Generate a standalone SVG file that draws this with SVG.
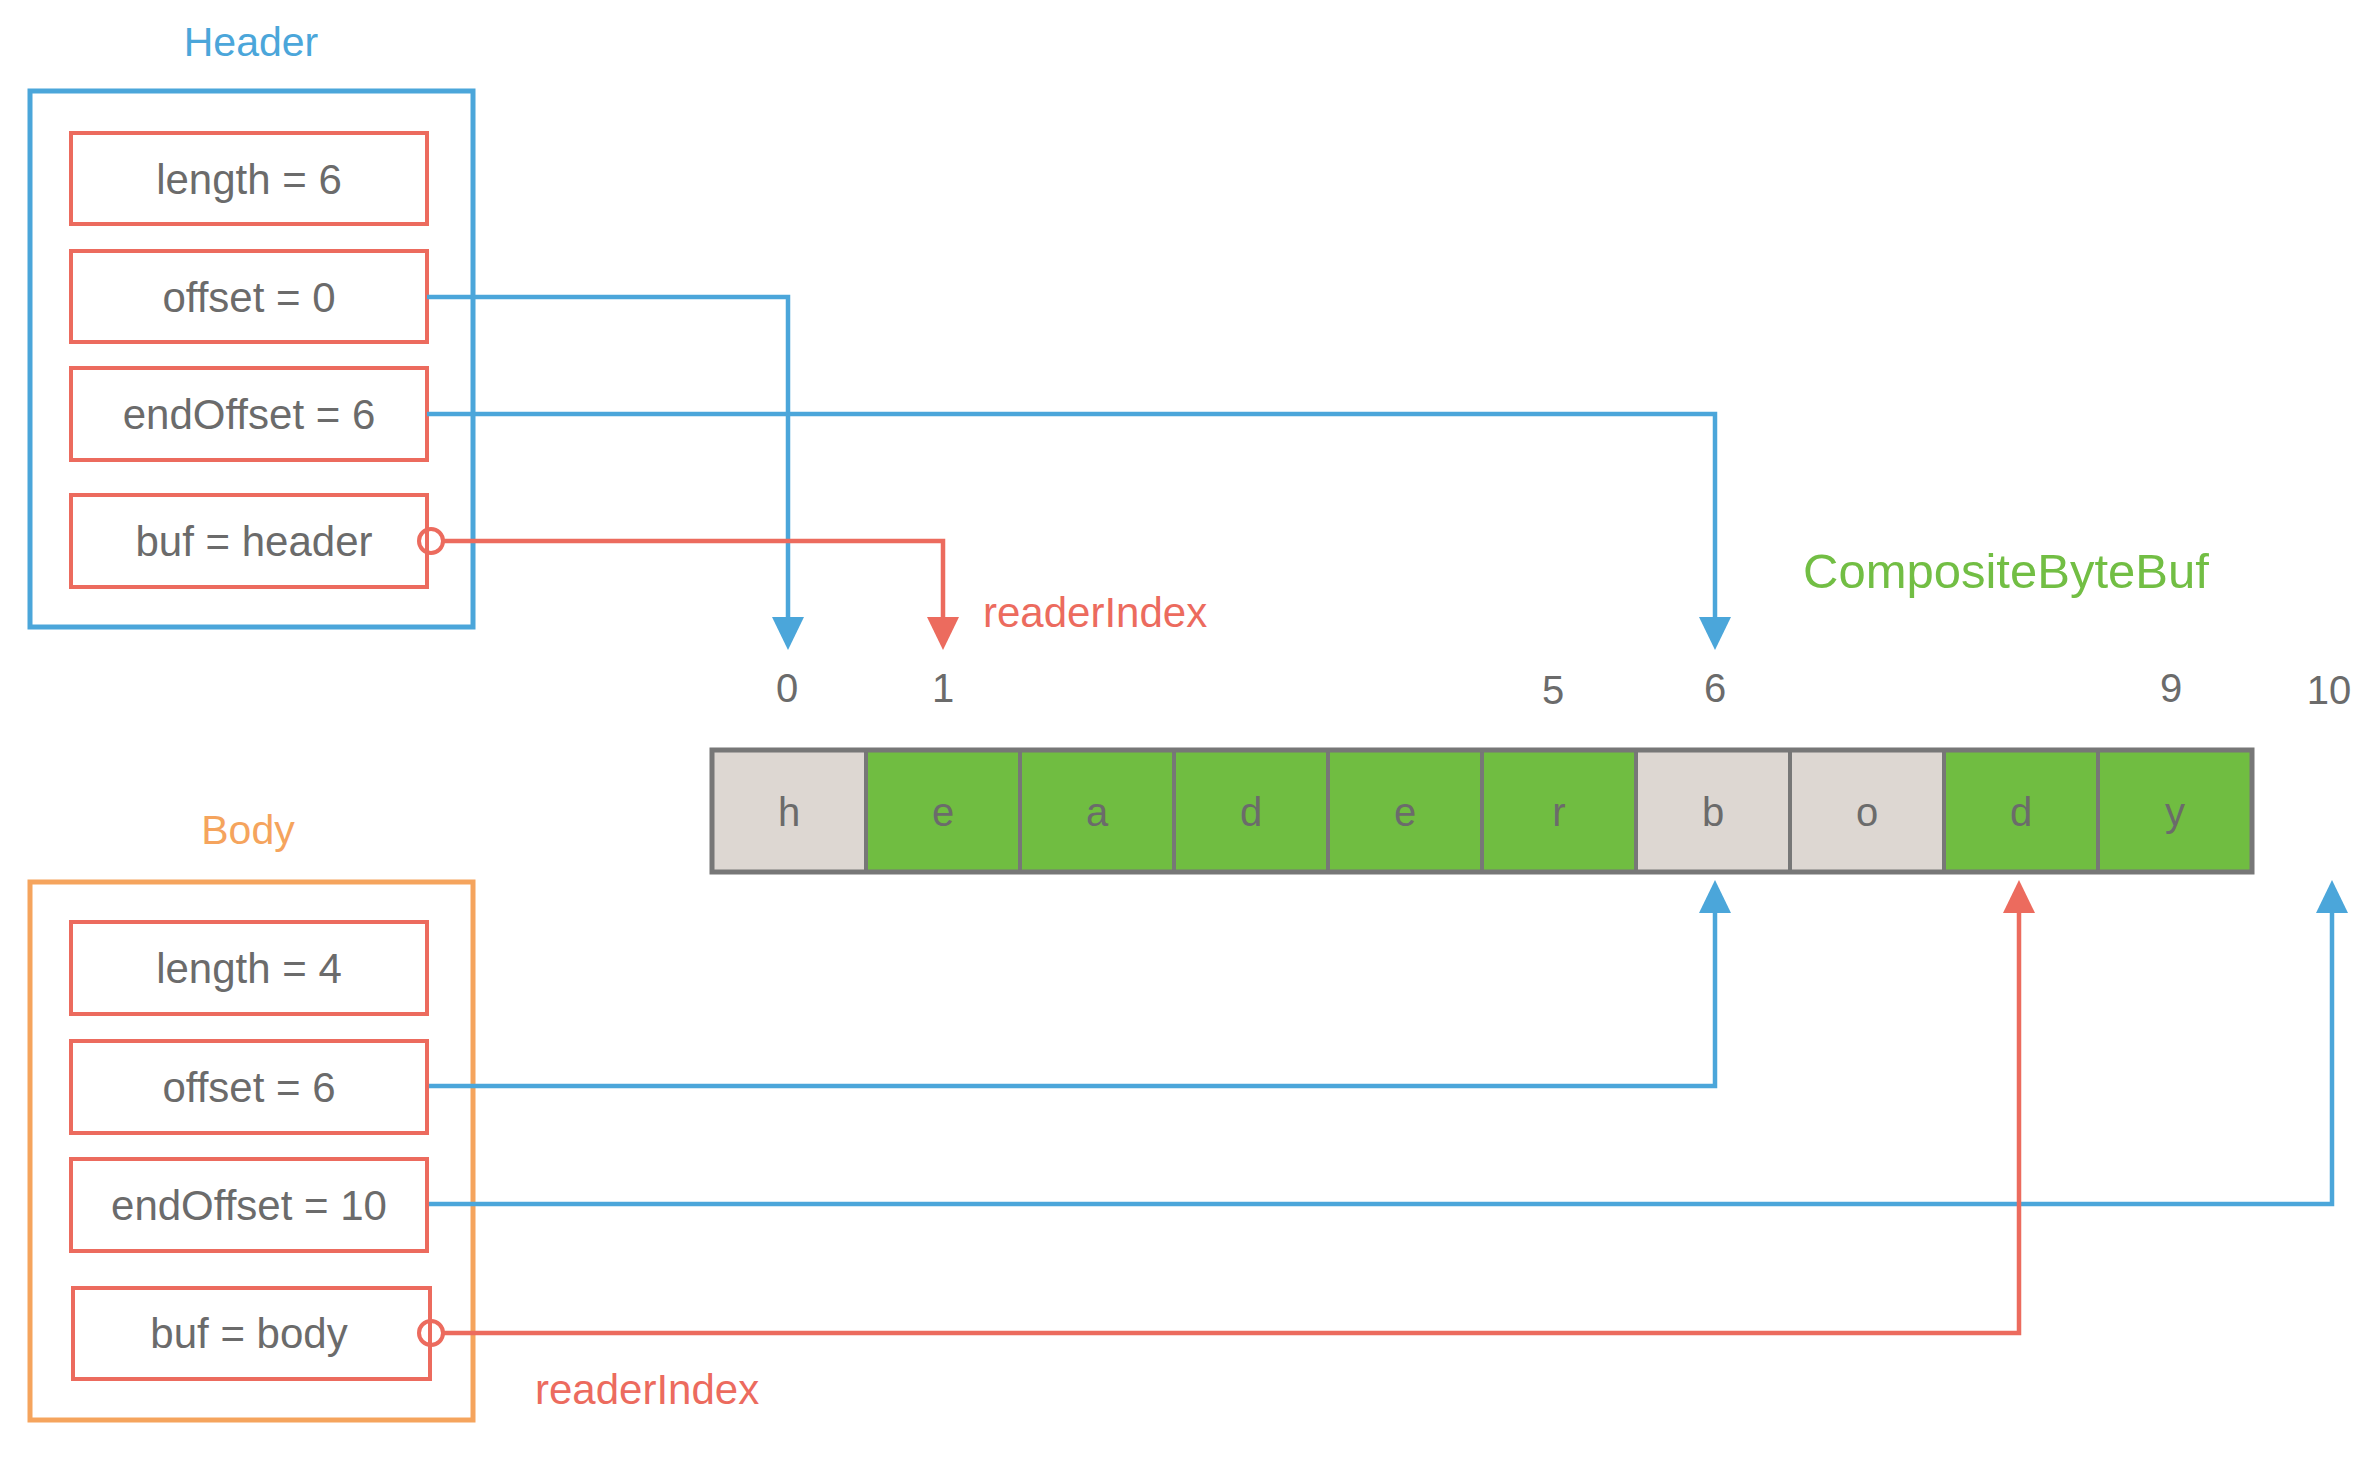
<svg xmlns="http://www.w3.org/2000/svg" width="2374" height="1464" viewBox="0 0 2374 1464">
<style>
text{font-family:"Liberation Sans",Arial,sans-serif}
.fld{fill:#fff;stroke:#EC6B5E;stroke-width:4}
.ft{font-size:42px;fill:#6B6B6B;text-anchor:middle}
.cellg{fill:#DDD7D2;stroke:#777;stroke-width:4}
.cellv{fill:#70BD41;stroke:#777;stroke-width:4}
.ct{font-size:40px;fill:#6B6B6B;text-anchor:middle}
.idx{font-size:40px;fill:#6B6B6B;text-anchor:middle}
.blue{fill:none;stroke:#4BA6DA;stroke-width:4.5}
.red{fill:none;stroke:#EC6B5E;stroke-width:4.5}
.ri{font-size:42px;fill:#EC6B5E}
</style>
<rect width="2374" height="1464" fill="#fff"/>

<g id="header">
<text x="251" y="56" style="font-size:41px;fill:#4BA6DA;text-anchor:middle">Header</text>
<rect x="30" y="91" width="443" height="536" fill="none" stroke="#4BA6DA" stroke-width="5"/>
</g>
<g id="header-length"><rect class="fld" x="71" y="133" width="356" height="91"/><text class="ft" x="249" y="194">length = 6</text></g>
<g id="header-offset"><rect class="fld" x="71" y="251" width="356" height="91"/><text class="ft" x="249" y="312">offset = 0</text></g>
<g id="header-endOffset"><rect class="fld" x="71" y="368" width="356" height="92"/><text class="ft" x="249" y="429">endOffset = 6</text></g>
<g id="header-buf"><rect class="fld" x="71" y="495" width="356" height="92"/><text class="ft" x="254" y="556">buf = header</text></g>

<g id="body">
<text x="248" y="844" style="font-size:41px;fill:#F5A45D;text-anchor:middle">Body</text>
<rect x="30" y="882" width="443" height="538" fill="none" stroke="#F5A45D" stroke-width="5"/>
</g>
<g id="body-length"><rect class="fld" x="71" y="922" width="356" height="92"/><text class="ft" x="249" y="983">length = 4</text></g>
<g id="body-offset"><rect class="fld" x="71" y="1041" width="356" height="92"/><text class="ft" x="249" y="1102">offset = 6</text></g>
<g id="body-endOffset"><rect class="fld" x="71" y="1159" width="356" height="92"/><text class="ft" x="249" y="1220">endOffset = 10</text></g>
<g id="body-buf"><rect class="fld" x="73" y="1288" width="357" height="91"/><text class="ft" x="249" y="1348">buf = body</text></g>

<g id="compositebytebuf">
<text x="1803" y="588" style="font-size:49px;fill:#72BE44">CompositeByteBuf</text>
<rect class="cellg" x="712" y="750" width="154" height="122"/>
<rect class="cellv" x="866" y="750" width="154" height="122"/>
<rect class="cellv" x="1020" y="750" width="154" height="122"/>
<rect class="cellv" x="1174" y="750" width="154" height="122"/>
<rect class="cellv" x="1328" y="750" width="154" height="122"/>
<rect class="cellv" x="1482" y="750" width="154" height="122"/>
<rect class="cellg" x="1636" y="750" width="154" height="122"/>
<rect class="cellg" x="1790" y="750" width="154" height="122"/>
<rect class="cellv" x="1944" y="750" width="154" height="122"/>
<rect class="cellv" x="2098" y="750" width="154" height="122"/>
<rect x="712" y="750" width="1540" height="122" fill="none" stroke="#777" stroke-width="5"/>
<text class="ct" x="789" y="826">h</text>
<text class="ct" x="943" y="826">e</text>
<text class="ct" x="1097" y="826">a</text>
<text class="ct" x="1251" y="826">d</text>
<text class="ct" x="1405" y="826">e</text>
<text class="ct" x="1559" y="826">r</text>
<text class="ct" x="1713" y="826">b</text>
<text class="ct" x="1867" y="826">o</text>
<text class="ct" x="2021" y="826">d</text>
<text class="ct" x="2175" y="826">y</text>
<text class="idx" x="787" y="702">0</text>
<text class="idx" x="943" y="702">1</text>
<text class="idx" x="1553" y="704">5</text>
<text class="idx" x="1715" y="702">6</text>
<text class="idx" x="2171" y="702">9</text>
<text class="idx" x="2329" y="704">10</text>
</g>

<g id="labels">
<text class="ri" x="983" y="627">readerIndex</text>
<text class="ri" x="535" y="1404">readerIndex</text>
</g>

<g id="connectors">
<path class="blue" d="M427 297 H788 V620"/>
<polygon points="772,617 804,617 788,650" fill="#4BA6DA"/>
<path class="blue" d="M427 414 H1715 V620"/>
<polygon points="1699,617 1731,617 1715,650" fill="#4BA6DA"/>
<circle cx="431" cy="541" r="12" fill="none" stroke="#EC6B5E" stroke-width="4"/>
<path class="red" d="M443 541 H943 V620"/>
<polygon points="927,617 959,617 943,650" fill="#EC6B5E"/>

<path class="blue" d="M429 1086 H1715 V910"/>
<polygon points="1699,913 1731,913 1715,880" fill="#4BA6DA"/>
<path class="blue" d="M429 1204 H2332 V910"/>
<polygon points="2316,913 2348,913 2332,880" fill="#4BA6DA"/>
<circle cx="431" cy="1333" r="12" fill="none" stroke="#EC6B5E" stroke-width="4"/>
<path class="red" d="M443 1333 H2019 V910"/>
<polygon points="2003,913 2035,913 2019,880" fill="#EC6B5E"/>
</g>
</svg>
